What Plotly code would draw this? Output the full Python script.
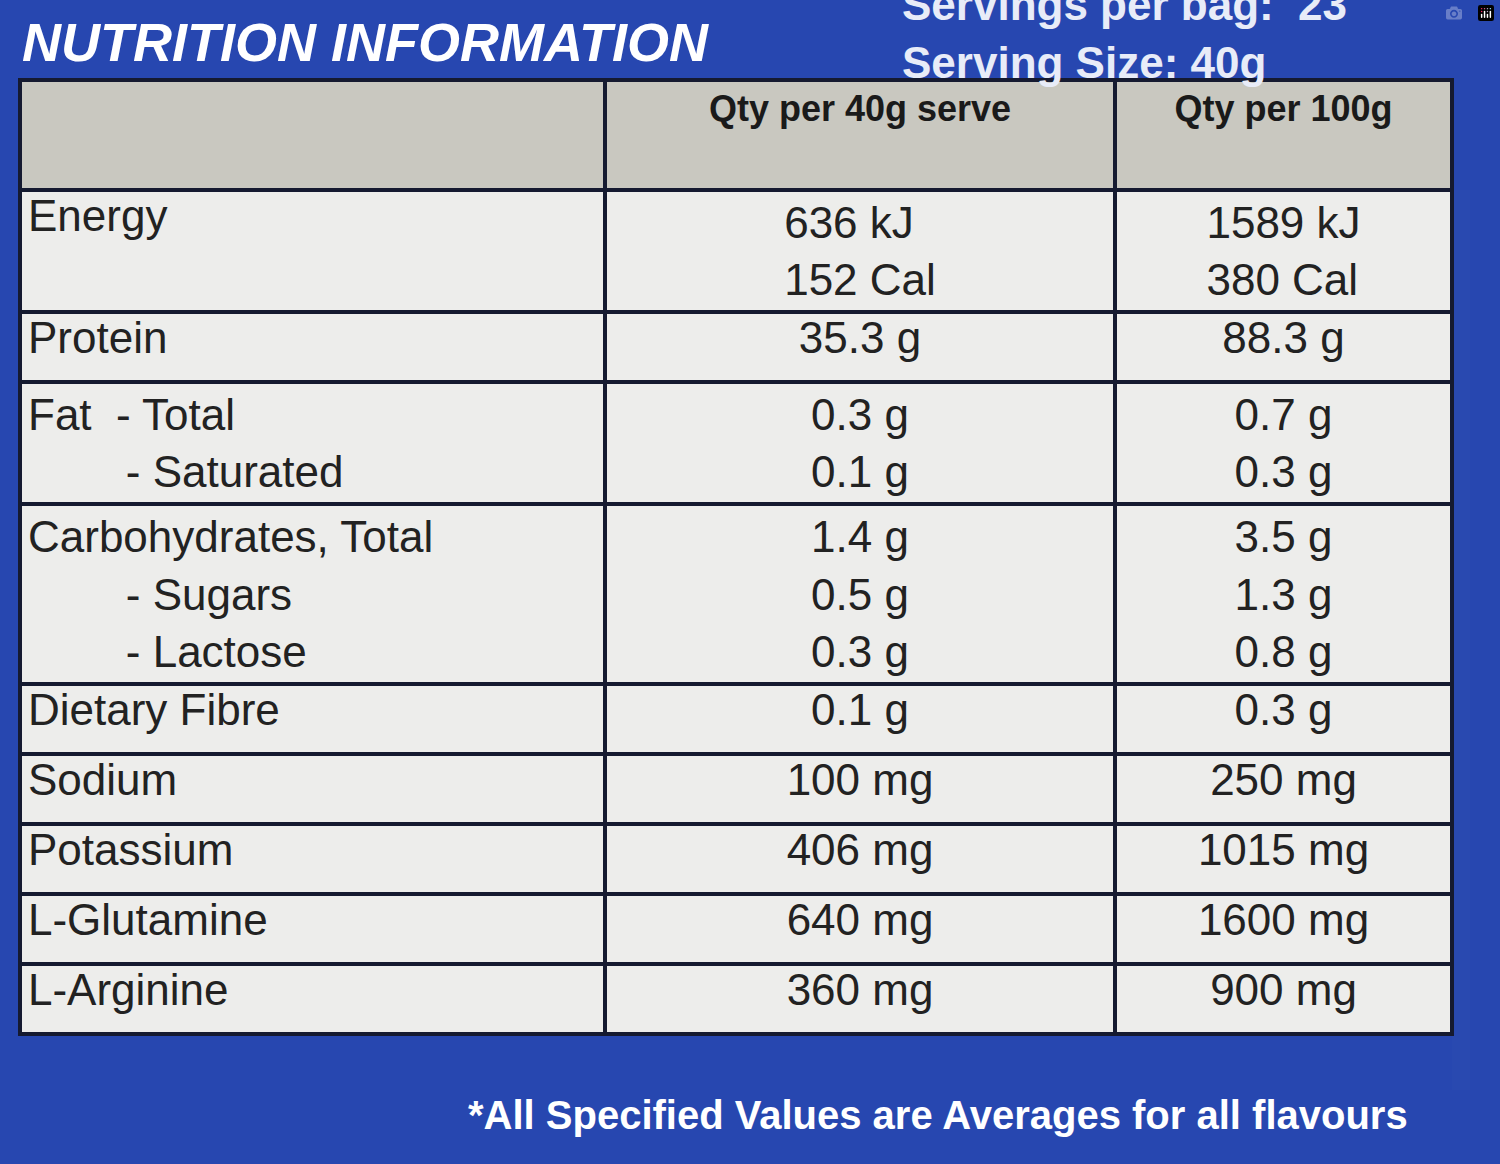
import plotly.graph_objects as go

# === DADOS ===
nutrientes = [
    "Energy", "Protein", "Fat  - Total<br>        - Saturated",
    "Carbohydrates, Total<br>        - Sugars<br>        - Lactose",
    "Dietary Fibre", "Sodium", "Potassium", "L-Glutamine", "L-Arginine",
]
por_porcao = [
    "636 kJ<br>152 Cal", "35.3 g", "0.3 g<br>0.1 g", "1.4 g<br>0.5 g<br>0.3 g",
    "0.1 g", "100 mg", "406 mg", "640 mg", "360 mg",
]
por_100g = [
    "1589 kJ<br>380 Cal", "88.3 g", "0.7 g<br>0.3 g", "3.5 g<br>1.3 g<br>0.8 g",
    "0.3 g", "250 mg", "1015 mg", "1600 mg", "900 mg",
]
cabecalho = ["", "<br><b>Qty per 40g serve</b>", "<br><b>Qty per 100g</b>"]

azul = "#2747b0"
W, H = 1500, 1164

fig = go.Figure()
fig.add_trace(go.Table(
    domain=dict(x=[20 / W, 1452 / W], y=[1 - 1090 / H, 1 - 80 / H]),
    columnwidth=[585, 510, 337],
    header=dict(
        values=cabecalho, height=110,
        fill_color="#c9c8c0", line=dict(color="#151a30", width=4),
        font=dict(family="Liberation Sans", size=36, color="#1a1a1a"),
        align="center",
    ),
    cells=dict(
        values=[nutrientes, por_porcao, por_100g], height=70,
        fill_color="#ededeb", line=dict(color="#151a30", width=4),
        font=dict(family="Liberation Sans", size=44, color="#222222"),
        align=["left", "center", "center"],
    ),
))

# === TEXTOS ===
def texto(x, y, t, size, anchor="left", color="white"):
    fig.add_annotation(x=x / W, y=1 - y / H, xref="paper", yref="paper",
                       xanchor=anchor, yanchor="middle", text=t, showarrow=False,
                       font=dict(family="Liberation Sans", size=size, color=color))

texto(20, 42, "<b><i>NUTRITION INFORMATION</i></b>", 54)
texto(900, 5, "<b>Servings per bag:  23</b>", 44, color="#e8ecf8")
texto(900, 62, "<b>Serving Size: 40g</b>", 44, color="#e8ecf8")
texto(1410, 1115, "<b>*All Specified Values are Averages for all flavours</b>", 40, anchor="right")

fig.update_layout(width=W, height=H, margin=dict(l=0, r=0, t=0, b=0),
                  paper_bgcolor=azul, plot_bgcolor=azul)

fig.write_html("out.html", post_script="document.body.style.margin='0';document.body.style.background='%s';" % azul)
